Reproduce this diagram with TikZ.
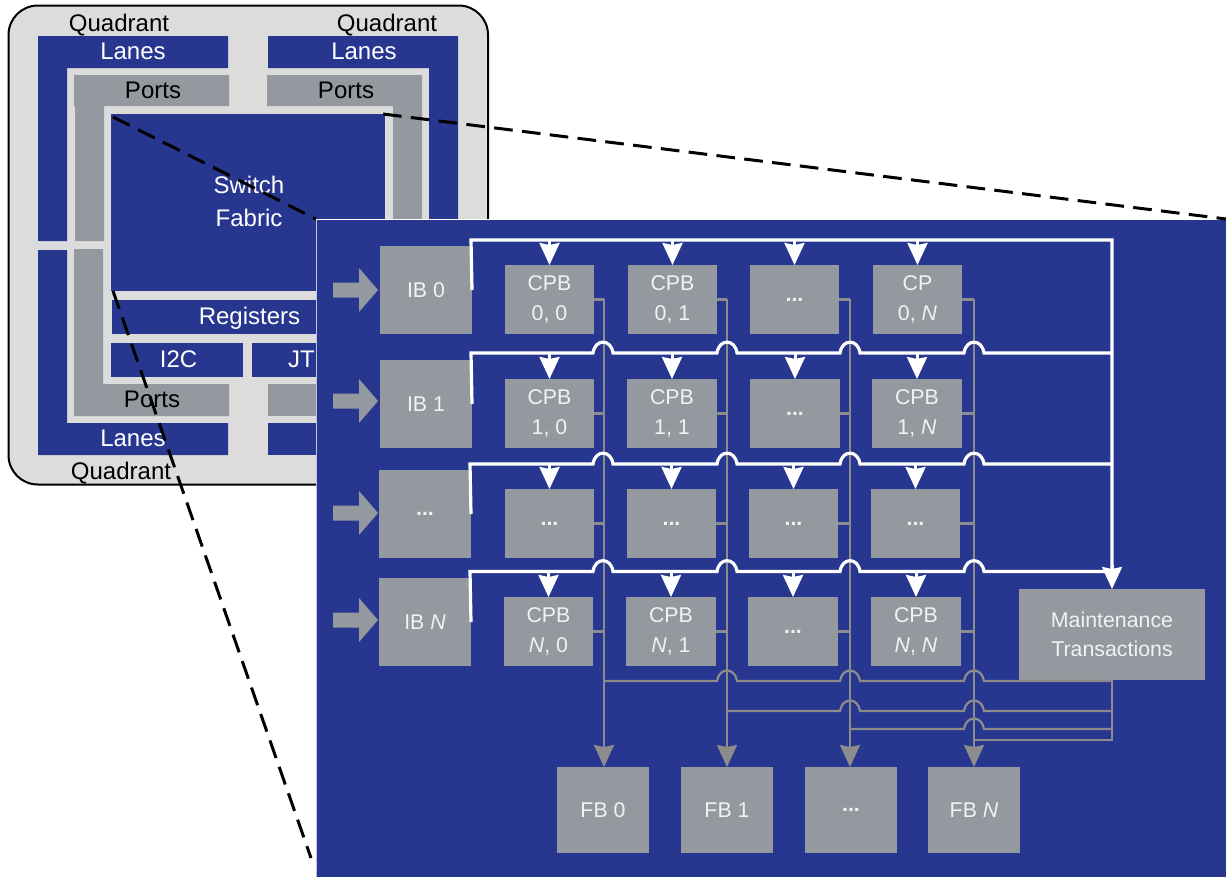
\documentclass[tikz,border=0pt]{standalone}
\usepackage{fontspec}
\setmainfont{Liberation Sans}
\usetikzlibrary{arrows.meta}
\definecolor{navy}{RGB}{39,55,143}
\definecolor{slab}{RGB}{147,153,158}
\definecolor{pale}{RGB}{220,220,220}
\definecolor{wire}{RGB}{140,140,140}
\definecolor{rim}{RGB}{190,195,225}
\tikzset{
  bluefill/.style={fill=navy,draw=none},
  grayfill/.style={fill=slab,draw=none},
  biglabel/.style={font=\fontsize{18}{22}\selectfont,inner sep=0pt,outer sep=0pt,anchor=base},
  blk/.style={biglabel,text=black},
  wht/.style={biglabel,text=white},
  gbox/.style={fill=slab,draw=none,inner sep=0pt,outer sep=0pt,text=white!95!black,align=center,font=\fontsize{16}{22}\selectfont},
  zoomline/.style={black,line width=3*0.75pt,dash pattern=on 14pt off 7pt},
  whitebus/.style={white,line width=3.2*0.75pt,line join=miter},
  graybus/.style={wire,line width=2.2*0.75pt,line join=miter},
  whitehead/.style={white,line width=3*0.75pt,-{Stealth[length=16.5pt,width=15pt,inset=1.5pt]}},
  grayhead/.style={wire,line width=2.2*0.75pt,-{Stealth[length=16.5pt,width=15pt,inset=1.5pt]}},
}
\newcommand{\boxat}[6]{\node[gbox,minimum width={(#4-#2)*0.75pt},minimum height={(#5-#3)*0.75pt}] (#1) at ({(#2+#4)/2},{(#3+#5)/2}) {#6};}
\newcommand{\fatarrow}[1]{\fill[slab] (333,#1-7.5) -- (359,#1-7.5) -- (359,#1-22) -- (378,#1) -- (359,#1+22) -- (359,#1+7.5) -- (333,#1+7.5) -- cycle;}
\begin{document}
\begin{tikzpicture}[x=0.75pt,y=-0.75pt]
\useasboundingbox (0,0) rectangle (1226,876);
% chip
\draw[fill=pale,draw=black,line width=1.5pt,rounded corners=22pt] (8.5,5.5) rectangle (488,484.5);
% lanes
\fill[bluefill] (38,36) -- (228,36) -- (228,68) -- (67,68) -- (67,241) -- (38,241) -- cycle;
\fill[bluefill] (268,36) -- (458,36) -- (458,300) -- (429,300) -- (429,68) -- (268,68) -- cycle;
\fill[bluefill] (38,250) -- (67,250) -- (67,423) -- (228,423) -- (228,455) -- (38,455) -- cycle;
\fill[bluefill] (268,423) rectangle (458,455);
% ports
\fill[grayfill] (74,75) -- (229,75) -- (229,106) -- (104,106) -- (104,241) -- (75,241) -- (75,106) -- (74,106) -- cycle;
\fill[grayfill] (267,75) -- (422,75) -- (422,300) -- (393,300) -- (393,106) -- (267,106) -- cycle;
\fill[grayfill] (74,249) -- (103,249) -- (103,384) -- (229,384) -- (229,416) -- (74,416) -- cycle;
\fill[grayfill] (268,384) rectangle (400,416);
% fabric and blocks
\fill[bluefill] (111,114) rectangle (385,291);
\fill[bluefill] (112,300) rectangle (400,334);
\fill[bluefill] (111,343) rectangle (243,377);
\fill[bluefill] (252,343) rectangle (400,377);
% labels
\node[blk] (q1) at (119,31) {Quadrant};
\node[blk] (q2) at (387,31) {Quadrant};
\node[blk] (q3) at (121,479.5) {Quadrant};
\node[wht] (l1) at (133,59.5) {Lanes};
\node[wht] (l2) at (364,59.5) {Lanes};
\node[wht] (l3) at (133,446) {Lanes};
\node[blk] (p1) at (153,98) {Ports};
\node[blk] (p2) at (346,98) {Ports};
\node[blk] (p3) at (152,407) {Ports};
\node[wht] (s1) at (249,193) {Switch};
\node[wht] (s2) at (249,226) {Fabric};
\node[wht] (reg) at (249.5,324) {Registers};
\node[wht] (i2c) at (178.5,367) {I2C};
\node[wht,anchor=base west] (jt) at (288,367) {JT};
% zoom lines
\coordinate (z1) at (113,117);
\coordinate (z2) at (383,114);
\coordinate (z3) at (113,291);
\coordinate (z3end) at (311,858);
% panel
\node[fill=navy,draw=rim,line width=0.75pt,inner sep=0pt,outer sep=0pt,minimum width={910*0.75pt},minimum height={659*0.75pt}] (panel) at (771,548.5) {};
\draw[white,line width=0.75pt] (panel.north west) -- (panel.north east);
\draw[zoomline] (z1) -- (panel.north west);
\draw[zoomline] (z2) -- (panel.north east);
\draw[zoomline] (z3) -- (z3end);
% input buffers
\boxat{ib0}{380}{246}{472}{334}{IB 0}
\boxat{ib1}{380}{360}{472}{448}{IB 1}
\boxat{ib2}{379}{470}{471}{558}{\textbf{...}}
\boxat{ib3}{379}{578}{471}{666}{IB \textit{N}}
\fatarrow{290}
\fatarrow{401}
\fatarrow{513}
\fatarrow{620}
% crosspoint buffers
\boxat{c00}{505}{265}{594}{334}{CPB\\0, 0}
\boxat{c01}{628}{265}{717}{334}{CPB\\0, 1}
\boxat{c02}{750}{265}{839}{334}{\textbf{...}}
\boxat{c03}{873}{265}{962}{334}{CP\\0, \textit{N}}
\boxat{c10}{505}{379}{594}{448}{CPB\\1, 0}
\boxat{c11}{627}{379}{717}{448}{CPB\\1, 1}
\boxat{c12}{750}{379}{840}{448}{\textbf{...}}
\boxat{c13}{872}{379}{962}{448}{CPB\\1, \textit{N}}
\boxat{c20}{505}{489}{594}{558}{\textbf{...}}
\boxat{c21}{627}{489}{716}{558}{\textbf{...}}
\boxat{c22}{749}{489}{838}{558}{\textbf{...}}
\boxat{c23}{871}{489}{960}{558}{\textbf{...}}
\boxat{c30}{504}{597}{593}{666}{CPB\\\textit{N}, 0}
\boxat{c31}{626}{597}{716}{666}{CPB\\\textit{N}, 1}
\boxat{c32}{748}{597}{838}{666}{\textbf{...}}
\boxat{c33}{871}{597}{961}{666}{CPB\\\textit{N}, \textit{N}}
\boxat{mt}{1019}{589}{1205}{680}{Maintenance\\Transactions}
\boxat{fb0}{557}{767}{649}{853}{FB 0}
\boxat{fb1}{681}{767}{773}{853}{FB 1}
\boxat{fb2}{805}{767}{897}{853}{\textbf{...}}
\boxat{fb3}{928}{767}{1020}{853}{FB \textit{N}}
% gray output wires
\coordinate (v0) at (604,299);
\coordinate (v1) at (727,299);
\coordinate (v2) at (850,299);
\coordinate (v3) at (974,299);
\foreach \r in {0,1,2,3}{
  \draw[graybus] (c\r0.east) -- (v0 |- c\r0.east);
  \draw[graybus] (c\r1.east) -- (v1 |- c\r1.east);
  \draw[graybus] (c\r2.east) -- (v2 |- c\r2.east);
  \draw[graybus] (c\r3.east) -- (v3 |- c\r3.east);
}
\draw[grayhead] (v0) -- (v0 |- fb0.north);
\draw[grayhead] (v1) -- (v1 |- fb1.north);
\draw[grayhead] (v2) -- (v2 |- fb2.north);
\draw[grayhead] (v3) -- (v3 |- fb3.north);
% maintenance wires
\coordinate (mb) at (1112,740);
\draw[graybus] (mt.south -| mb) -- (mb) -- (974,740);
\draw[graybus] (1112,681) -- (984,681) \foreach \x/\n in {974/850,850/727,727/0}{ .. controls ({\x+8},667) and ({\x-8},667) .. ({\x-10},681) -- ({max(\n+10,604)},681) } ;
\draw[graybus] (1112,711) -- (984,711) \foreach \x/\n in {974/850,850/0}{ .. controls ({\x+8},697) and ({\x-8},697) .. ({\x-10},711) -- ({max(\n+10,727)},711) } ;
\draw[graybus] (1112,729) -- (984,729) .. controls (982,715) and (966,715) .. (964,729) -- (850,729);
% white buses
\coordinate (bus0) at (471,240);
\coordinate (bus1) at (471,353);
\coordinate (bus2) at (470,464);
\coordinate (bus3) at (470,571.5);
\draw[whitebus] (ib0.east) -- (bus0) -- (bus0 -| mt) -- (1112,580);
\foreach \r/\Y in {1/353,2/464,3/571.5}{
  \draw[whitebus] (ib\r.east) -- (bus\r) -- (593,\Y) \foreach \x/\n in {603/727,727/850,850/974,974/1122}{ .. controls ({\x-8},{\Y-14.5}) and ({\x+8},{\Y-14.5}) .. ({\x+10},\Y) -- ({\n-10},\Y) };
}
\foreach \r/\b in {0/bus0,1/bus1,2/bus2,3/bus3}{
  \foreach \c in {0,1,2,3}{
    \draw[whitehead] (c\r\c.north |- \b) -- (c\r\c.north);
  }
}
\draw[whitehead] (1112,565) -- (1112,589);
\end{tikzpicture}
\end{document}
